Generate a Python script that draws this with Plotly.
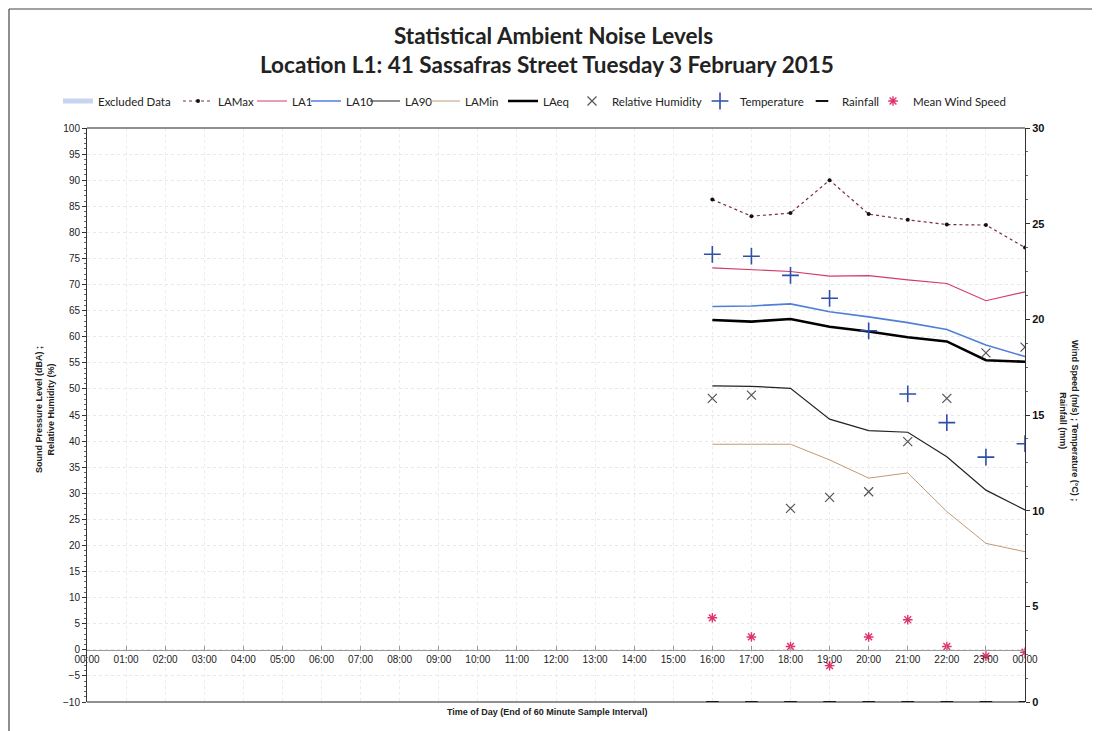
import plotly.graph_objects as go

# ---- data ----
hours = [16, 17, 18, 19, 20, 21, 22, 23, 24]
tick_vals = list(range(0, 25))
tick_text = [f"{h % 24:02d}:00" for h in range(0, 25)]

la_max = [86.3, 83.1, 83.7, 90.0, 83.5, 82.4, 81.5, 81.4, 77.1]
la_1 = [73.2, 72.8, 72.5, 71.6, 71.7, 70.9, 70.2, 66.9, 68.6]
la_10 = [65.8, 65.9, 66.3, 64.8, 63.8, 62.7, 61.4, 58.4, 56.2]
la_90 = [50.6, 50.5, 50.1, 44.2, 42.0, 41.7, 37.0, 30.6, 26.8]
la_min = [39.4, 39.4, 39.4, 36.4, 32.9, 33.9, 26.5, 20.4, 18.8]
la_eq = [63.2, 62.9, 63.4, 61.9, 61.0, 59.9, 59.1, 55.5, 55.2]
rel_humidity = [48.2, 48.8, 27.1, 29.2, 30.3, 39.9, 48.2, 56.9, 58.0]
temperature = [23.4, 23.3, 22.3, 21.1, 19.4, 16.1, 14.6, 12.8, 13.5]
rainfall = [0, 0, 0, 0, 0, 0, 0, 0, 0]
wind_speed = [4.4, 3.4, 2.9, 1.9, 3.4, 4.3, 2.9, 2.4, 2.6]

left_ticks = list(range(-10, 101, 5))
right_ticks = list(range(0, 31, 5))

# page is offset by the browser's 8px body margin; plot area in figure px:
PL, PT, PW, PH = 79, 120, 938, 574
FW, FH = 1092, 723


def px(xf):  # figure x px -> paper fraction
    return (xf - PL) / PW


def py(yf):  # figure y px -> paper fraction
    return (PT + PH - yf) / PH


fig = go.Figure()

traces = [
    go.Scatter(x=[None], y=[None], mode="lines", name="Excluded Data",
               line=dict(color="#c9d3f2", width=5)),
    go.Scatter(x=hours, y=la_max, mode="lines+markers", name="LAMax",
               line=dict(color="#7a2a48", width=1.2, dash="dot"),
               marker=dict(color="#111", size=4)),
    go.Scatter(x=hours, y=la_1, mode="lines", name="LA1",
               line=dict(color="#d23c68", width=1.2)),
    go.Scatter(x=hours, y=la_10, mode="lines", name="LA10",
               line=dict(color="#4f7fd6", width=1.6)),
    go.Scatter(x=hours, y=la_90, mode="lines", name="LA90",
               line=dict(color="#222", width=1.2)),
    go.Scatter(x=hours, y=la_min, mode="lines", name="LAMin",
               line=dict(color="#c09a78", width=1)),
    go.Scatter(x=hours, y=la_eq, mode="lines", name="LAeq",
               line=dict(color="#000", width=2.6)),
    go.Scatter(x=hours, y=rel_humidity, mode="markers", name="Relative Humidity",
               marker=dict(symbol="x-thin-open", size=9, color="#555",
                           line=dict(width=1.2, color="#555"))),
    go.Scatter(x=hours, y=temperature, mode="markers", name="Temperature", yaxis="y2",
               marker=dict(symbol="cross-thin-open", size=12, color="#2e4fa8",
                           line=dict(width=1.6, color="#2e4fa8"))),
    go.Scatter(x=hours, y=rainfall, mode="markers", name="Rainfall", yaxis="y2",
               marker=dict(symbol="line-ew-open", size=9, color="#111",
                           line=dict(width=2, color="#111"))),
    go.Scatter(x=hours, y=wind_speed, mode="markers", name="Mean Wind Speed", yaxis="y2",
               marker=dict(symbol="asterisk-open", size=8, color="#e0336b",
                           line=dict(width=1.4, color="#e0336b"))),
]

# legend text start positions (figure px) for each entry
legend_text_x = [90, 210, 284, 338, 397, 457, 535, 604, 732, 834, 905]
legend_layout = {}
for i, (tr, tx) in enumerate(zip(traces, legend_text_x)):
    key = "legend" if i == 0 else f"legend{i + 1}"
    tr.legend = key
    fig.add_trace(tr)
    legend_layout[key] = dict(
        x=px(tx - 40), xanchor="left", y=py(93), yanchor="middle",
        orientation="h", bgcolor="rgba(0,0,0,0)", borderwidth=0,
        itemwidth=30, font=dict(family="Lato, sans-serif", size=11.5, color="#222"))

ymin, ymax = -10, 100
zero_pos = (0 - ymin) / (ymax - ymin)

fig.update_layout(
    width=FW, height=FH,
    paper_bgcolor="white", plot_bgcolor="white",
    margin=dict(l=PL, r=FW - PL - PW, t=PT, b=FH - PT - PH),
    font=dict(family="Liberation Sans, Arial, sans-serif", color="#222", size=10),
    showlegend=True,
    xaxis=dict(range=[0, 24], tickmode="array", tickvals=tick_vals, ticktext=tick_text,
               anchor="free", position=zero_pos, showline=True, linecolor="#999",
               linewidth=1, ticks="inside", ticklen=4, tickcolor="#999",
               showgrid=True, gridcolor="#ececec", griddash="dot",
               zeroline=False, tickfont=dict(size=10, color="#222"), fixedrange=True),
    yaxis=dict(range=[ymin, ymax], tickmode="array", tickvals=left_ticks,
               showline=True, linecolor="#333", linewidth=1, ticks="outside",
               ticklen=4, tickcolor="#333",
               minor=dict(ticks="outside", ticklen=2, dtick=1, tickcolor="#666"),
               showgrid=True, gridcolor="#e8e8e8", griddash="dot", zeroline=False,
               tickfont=dict(size=10, color="#222")),
    yaxis2=dict(range=[0, 30], overlaying="y", side="right", tickmode="array",
                tickvals=right_ticks, showline=True, linecolor="#333", linewidth=1,
                ticks="outside", ticklen=4, tickcolor="#333",
                minor=dict(ticks="outside", ticklen=2, dtick=1.25, tickcolor="#666"),
                showgrid=False, zeroline=False,
                tickfont=dict(size=11, color="#111", weight="bold",
                              family="Liberation Sans, Arial, sans-serif")),
    **legend_layout,
)

# frame lines: top and bottom of plot area
fig.add_shape(type="line", xref="paper", yref="paper", x0=0, x1=1, y0=1, y1=1,
              line=dict(color="#222", width=1.2))
fig.add_shape(type="line", xref="paper", yref="paper", x0=0, x1=1, y0=0, y1=0,
              line=dict(color="#222", width=1.2))
# outer page frame (left & top edges)
fig.add_shape(type="line", xref="paper", yref="paper",
              x0=px(1), x1=px(1), y0=py(FH), y1=py(1),
              line=dict(color="#444", width=1.2))
fig.add_shape(type="line", xref="paper", yref="paper",
              x0=px(1), x1=px(FW - 8), y0=py(1), y1=py(1),
              line=dict(color="#444", width=1.2))

# titles
fig.add_annotation(text="<b>Statistical Ambient Noise Levels</b>", xref="paper", yref="paper",
                   x=px(545), y=py(27), xanchor="center", yanchor="middle", showarrow=False,
                   font=dict(family="Lato, sans-serif", size=22.5, color="#222"))
fig.add_annotation(text="<b>Location L1: 41 Sassafras Street Tuesday 3 February 2015</b>",
                   xref="paper", yref="paper",
                   x=px(539), y=py(56), xanchor="center", yanchor="middle", showarrow=False,
                   font=dict(family="Lato, sans-serif", size=22.5, color="#222"))
# axis titles
fig.add_annotation(text="<b>Sound Pressure Level (dBA) ;<br>Relative Humidity (%)</b>",
                   xref="paper", yref="paper", x=px(37), y=py(402),
                   xanchor="center", yanchor="middle", showarrow=False, textangle=-90,
                   font=dict(size=9, color="#222"))
fig.add_annotation(text="<b>Wind Speed (m/s) ; Temperature (°C) ;<br>Rainfall (mm)</b>",
                   xref="paper", yref="paper", x=px(1061), y=py(412),
                   xanchor="center", yanchor="middle", showarrow=False, textangle=90,
                   font=dict(size=9, color="#222"))
fig.add_annotation(text="<b>Time of Day (End of 60 Minute Sample Interval)</b>",
                   xref="paper", yref="paper", x=px(539), y=py(704),
                   xanchor="center", yanchor="middle", showarrow=False,
                   font=dict(size=9, color="#222"))

fig.write_html("out.html")
